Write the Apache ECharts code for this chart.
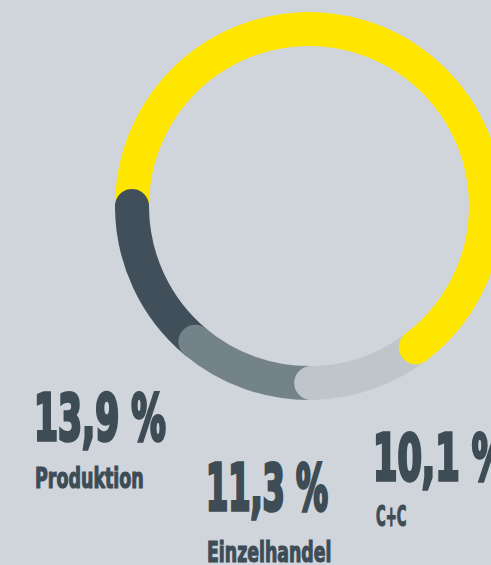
<!DOCTYPE html>
<html>
<head>
<meta charset="utf-8">
<style>
  html, body { margin: 0; padding: 0; background: #d0d5dc; }
  #chart { width: 491px; height: 565px; }
</style>
<script src="https://cdn.jsdelivr.net/npm/echarts@6/dist/echarts.min.js"></script>
</head>
<body>
<div id="chart"></div>
<script>
// ---- data ----
const categories = ['Produktion', 'Einzelhandel', 'C+C', 'Sonstige'];
const shares = [13.9, 11.3, 10.1, 64.7];
const colors = ['#404f59', '#738389', '#bec6cc', '#ffe600'];

const TEXT = '#3e4c56';
const FONT = '"DejaVu Sans Condensed", "Liberation Sans Narrow", sans-serif';

function pct(v) { return v.toFixed(1).replace('.', ',') + ' %'; }

// cumulative start of each segment
const starts = [];
let acc = 0;
shares.forEach(v => { starts.push(acc); acc += v; });

const barSeries = shares.map((v, i) => ({
  type: 'bar',
  name: categories[i],
  coordinateSystem: 'polar',
  stack: 'ring',
  barWidth: '100%',
  data: [v],
  itemStyle: { color: colors[i], opacity: 1 },
  silent: true,
  z: 2
}));

const capSeries = {
  type: 'scatter',
  coordinateSystem: 'polar',
  symbol: 'circle',
  symbolSize: 34,
  silent: true,
  z: 3,
  itemStyle: { opacity: 1 },
  data: starts.map((s, i) => ({ value: [0, s], itemStyle: { color: colors[i], opacity: 1 } }))
};

// label layout (positions only)
const labelLayout = [
  { big: [34, 418, 0.60], small: [35, 478, 0.67] },
  { big: [206, 488, 0.555], small: [207, 552, 0.665] },
  { big: [373, 458, 0.61], small: [376, 516, 0.505] }
];

const graphics = [];
labelLayout.forEach((L, i) => {
  graphics.push({
    type: 'text', x: L.big[0], y: L.big[1], scaleX: L.big[2], silent: true,
    style: { text: pct(shares[i]), font: 'bold 64px ' + FONT, fill: TEXT,
             stroke: TEXT, lineWidth: 3.5, lineHeight: 52,
             textAlign: 'left', textVerticalAlign: 'middle' }
  });
  graphics.push({
    type: 'text', x: L.small[0], y: L.small[1], scaleX: L.small[2], silent: true,
    style: { text: categories[i], font: 'bold 29px ' + FONT, fill: TEXT,
             stroke: TEXT, lineWidth: 1.2, lineHeight: 22,
             textAlign: 'left', textVerticalAlign: 'middle' }
  });
});

const chart = echarts.init(document.getElementById('chart'), null, { renderer: 'svg' });
chart.setOption({
  backgroundColor: '#d0d5dc',
  animation: false,
  polar: { center: [309, 206], radius: [160, 194] },
  angleAxis: {
    type: 'value', min: 0, max: 100, startAngle: 180, clockwise: false,
    show: false
  },
  radiusAxis: { type: 'category', data: ['Anteil'], show: false },
  series: [...barSeries, capSeries],
  graphic: graphics
});
</script>
</body>
</html>
